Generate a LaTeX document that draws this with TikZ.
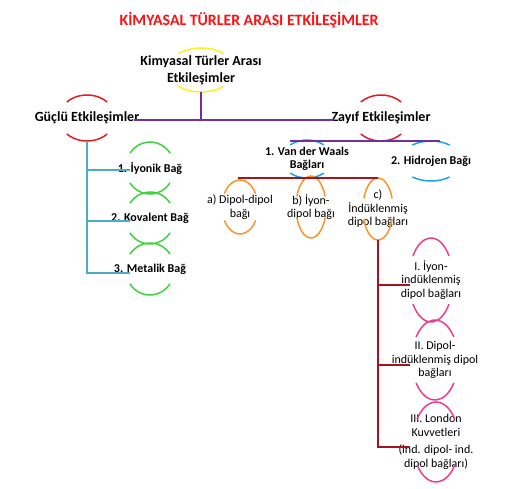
\documentclass[tikz,border=0pt]{standalone}
\usepackage{fontspec}
\setmainfont{Carlito}
\usepackage{tikz}

\definecolor{titlered}{HTML}{FF1010}
\definecolor{arcred}{HTML}{E31B23}
\definecolor{arcyellow}{HTML}{FFF21A}
\definecolor{linkpurple}{HTML}{7030A0}
\definecolor{arcgreen}{HTML}{3CD23C}
\definecolor{arcblue}{HTML}{1CA3E3}
\definecolor{linkcyan}{HTML}{4BACC6}
\definecolor{linkmaroon}{HTML}{A3141E}
\definecolor{arcorange}{HTML}{F7942A}
\definecolor{arcpink}{HTML}{EC3D8F}

\tikzset{
  heading/.style={text=titlered, font=\bfseries\fontsize{15.8}{18}\selectfont},
  bigtext/.style={font=\bfseries\fontsize{14}{17}\selectfont, align=center, inner sep=1pt},
  midtext/.style={font=\bfseries\fontsize{12}{13}\selectfont, align=center, inner sep=1pt},
  smalltext/.style={font=\fontsize{12}{13.5}\selectfont, align=center, inner sep=1pt},
  arcline/.style={line width=1.5pt},
  link/.style={line width=2pt},
}

% top and bottom arcs round a node: colour, node, x radius, y radius, angle
\newcommand{\ovals}[5]{%
  \draw[arcline,#1] ([shift={(#5:#3 and #4)}]#2.center) arc[start angle=#5, end angle=180-#5, x radius=#3, y radius=#4];
  \draw[arcline,#1] ([shift={(180+#5:#3 and #4)}]#2.center) arc[start angle=180+#5, end angle=360-#5, x radius=#3, y radius=#4];
}

\begin{document}
\begin{tikzpicture}[x=1pt, y=1pt]
    \useasboundingbox (0, 0) rectangle (520, -489);

    \node[heading] (title) at (249, -20) {KİMYASAL TÜRLER ARASI ETKİLEŞİMLER};

    % main levels
    \node[bigtext] (kimyasal) at (201, -70) {Kimyasal Türler Arası\\Etkileşimler};
    \node[bigtext] (guclu) at (87, -118) {Güçlü Etkileşimler};
    \node[bigtext] (zayif) at (381, -118) {Zayıf Etkileşimler};

    \node[midtext] (iyonik) at (150, -168) {1. İyonik Bağ};
    \node[midtext] (kovalent) at (150, -218) {2. Kovalent Bağ};
    \node[midtext] (metalik) at (150, -269) {3. Metalik Bağ};

    \node[midtext] (vdw) at (307, -159) {1. Van der Waals\\Bağları};
    \node[midtext] (hidrojen) at (431, -161) {2. Hidrojen Bağı};

    \node[smalltext] (dipol) at (240, -207) {a) Dipol-dipol\\bağı};
    \node[smalltext] (iyondipol) at (311, -207) {b) İyon-\\dipol bağı};
    \node[smalltext] (induk) at (378, -209) {c)\\İndüklenmiş\\dipol bağları};

    \node[smalltext] (iyonind) at (431, -280) {I. İyon-\\indüklenmiş\\dipol bağları};
    \node[smalltext] (dipolind) at (435, -360) {II. Dipol-\\indüklenmiş dipol\\bağları};
    \node[smalltext] (london) at (436, -442) {III. London\\Kuvvetleri\\[4pt](ind. dipol- ind.\\dipol bağları)};

    % arcs
    \ovals{arcyellow}{kimyasal}{34pt}{22pt}{48}
    \ovals{arcred}{guclu}{28pt}{23pt}{44}
    \ovals{arcred}{zayif}{28pt}{23pt}{44}
    \foreach \n in {iyonik, kovalent, metalik} {
      \ovals{arcgreen}{\n}{24.5pt}{26pt}{35}
    }
    \ovals{arcblue}{vdw}{25pt}{19pt}{48}
    \ovals{arcblue}{hidrojen}{31pt}{20pt}{53}
    \ovals{arcorange}{dipol}{18pt}{27pt}{30}
    \ovals{arcorange}{iyondipol}{15pt}{31pt}{20}
    \ovals{arcorange}{induk}{15pt}{31pt}{20}
    \ovals{arcpink}{iyonind}{22pt}{42pt}{35}
    \ovals{arcpink}{dipolind}{23pt}{40pt}{35}
    \ovals{arcpink}{london}{23pt}{40pt}{35}

    % connectors
    \coordinate (kimyasal-b) at (201, -92);
    \coordinate (hub) at (201, -120);
    \draw[link, linkpurple] (kimyasal-b) -- (hub);
    \draw[link, linkpurple] ([xshift=-6pt]guclu.east |- hub) -- ([xshift=4pt]zayif.west |- hub);

    \coordinate (guclu-b) at (87, -141);
    \coordinate (iyonik-in) at (130, -170);
    \coordinate (kovalent-in) at (130, -221);
    \coordinate (metalik-in) at (130, -273);
    \draw[link, linkcyan] (guclu-b) -- (guclu-b |- metalik-in) -- (metalik-in);
    \draw[link, linkcyan] (guclu-b |- iyonik-in) -- (iyonik-in);
    \draw[link, linkcyan] (guclu-b |- kovalent-in) -- (kovalent-in);

    \coordinate (vdw-t) at (290, -141);
    \coordinate (hidrojen-t) at (440, -141);
    \draw[link, linkpurple] (vdw-t) -- (hidrojen-t);

    \coordinate (dipol-t) at (238, -178);
    \coordinate (induk-t) at (378, -178);
    \draw[link, linkmaroon] (dipol-t) -- (induk-t);

    \coordinate (induk-b) at (378, -240);
    \coordinate (iyonind-in) at (410, -285);
    \coordinate (dipolind-in) at (410, -365);
    \coordinate (london-in) at (410, -447);
    \draw[link, linkmaroon] (induk-b) -- (induk-b |- london-in) -- (london-in);
    \draw[link, linkmaroon] (induk-b |- iyonind-in) -- (iyonind-in);
    \draw[link, linkmaroon] (induk-b |- dipolind-in) -- (dipolind-in);
\end{tikzpicture}
\end{document}
